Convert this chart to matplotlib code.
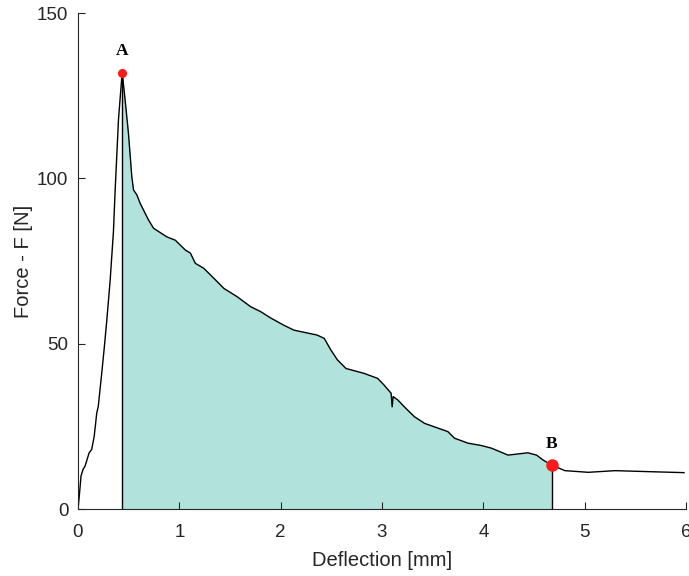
"""
Force-deflection curve with shaded post-peak region (A to B).
Saves out.png
"""

import numpy as np
import matplotlib
matplotlib.use("Agg")
import matplotlib.pyplot as plt

deflection = [
    0.0, 0.01, 0.03, 0.05, 0.07, 0.09, 0.11, 0.135, 0.16, 0.185, 0.2, 0.234,
    0.26, 0.284, 0.317, 0.35, 0.366, 0.4, 0.436, 0.465, 0.498, 0.531, 0.548,
    0.581, 0.614, 0.696, 0.746, 0.877, 0.96, 1.06, 1.109, 1.158, 1.241, 1.34,
    1.44, 1.571, 1.703, 1.802, 1.9, 2.03, 2.13, 2.36, 2.43, 2.495, 2.56, 2.644,
    2.825, 2.957, 3.02, 3.09, 3.10, 3.11, 3.155, 3.22, 3.32, 3.42, 3.65, 3.716,
    3.85, 3.98, 4.08, 4.244, 4.44, 4.525, 4.59, 4.673, 4.805, 5.036, 5.3, 5.63,
    5.98,
]
force = [
    0.0, 3.0, 10.0, 12.0, 13.0, 15.0, 17.0, 18.0, 22.0, 29.0, 31.0, 41.0,
    49.0, 57.0, 69.0, 84.0, 96.0, 118.0, 132.0, 123.7, 113.6, 100.5, 96.5,
    95.0, 92.4, 87.4, 84.9, 82.3, 81.3, 78.3, 77.4, 74.3, 72.8, 69.8,
    66.7, 64.2, 61.2, 59.7, 57.8, 55.6, 54.1, 52.6, 51.6, 48.1, 45.1, 42.5,
    41.0, 39.5, 37.5, 35.0, 30.9, 34.0, 33.0, 30.9, 27.9, 25.9, 23.4, 21.4,
    19.9, 19.2, 18.4, 16.3, 17.0, 16.3, 14.8, 13.3, 11.6, 11.1, 11.6, 11.3,
    11.0,
]

# Marked points
point_labels = ["A", "B"]
point_x = [0.436, 4.673]
point_y = [132.0, 13.3]
point_sizes = [5.5, 8]

FILL_COLOR = "#b1e2dc"


def main():
    plt.rcParams["font.family"] = ["Liberation Sans", "DejaVu Sans"]
    x = np.array(deflection)
    y = np.array(force)

    fig = plt.figure(figsize=(6.89, 5.76), dpi=100)
    ax = fig.add_axes([0.1132, 0.1163, 0.8825, 0.8611])

    # shaded region between A and B
    i_a = int(np.argmin(np.abs(x - point_x[0])))
    i_b = int(np.argmin(np.abs(x - point_x[1])))
    ax.fill_between(x[i_a:i_b + 1], 0, y[i_a:i_b + 1], color=FILL_COLOR, lw=0)
    ax.vlines([x[i_a], x[i_b]], 0, [y[i_a], y[i_b]], color="black", lw=1)

    ax.plot(x, y, color="black", lw=1)

    for lab, px, py, ms in zip(point_labels, point_x, point_y, point_sizes):
        ax.plot(px, py, "o", color="#ff1a1a", ms=ms, zorder=5)
        ax.text(px, py + 4, lab, ha="center", va="bottom", fontsize=12.5,
                fontweight="bold", family="Liberation Serif")

    ax.set_xlim(0, 6)
    ax.set_ylim(0, 150)
    ax.set_xticks([0, 1, 2, 3, 4, 5, 6])
    ax.set_yticks([0, 50, 100, 150])
    ax.spines["top"].set_visible(False)
    ax.spines["right"].set_visible(False)
    for s in ("left", "bottom"):
        ax.spines[s].set_color("#262626")
        ax.spines[s].set_linewidth(0.8)
    ax.tick_params(direction="in", length=5, width=0.8, colors="#262626",
                   labelsize=13.5, labelcolor="#262626")
    ax.tick_params(axis="x", pad=11)
    ax.tick_params(axis="y", pad=7)
    ax.set_xlabel("Deflection [mm]", fontsize=14.5, color="#262626", labelpad=7)
    ax.set_ylabel("Force - F [N]", fontsize=14.5, color="#262626", labelpad=3)

    fig.savefig("out.png", dpi=100)
    plt.close(fig)


if __name__ == "__main__":
    main()
